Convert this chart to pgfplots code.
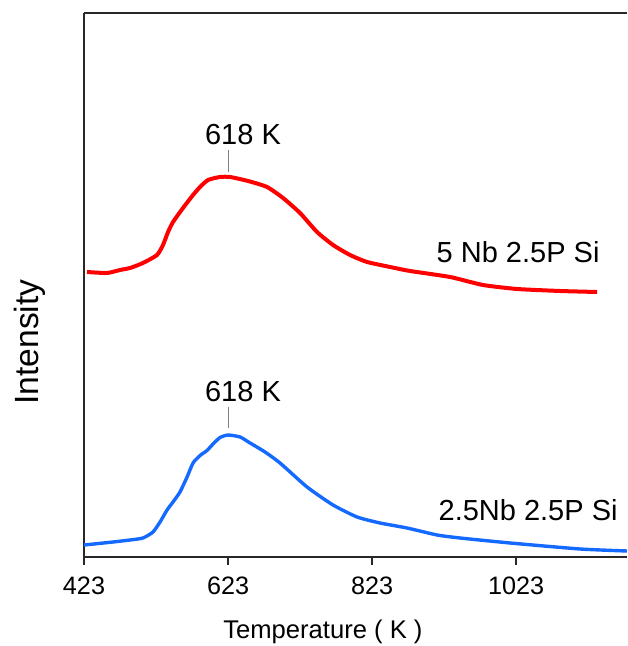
\documentclass[border=0pt]{standalone}
\usepackage{fontspec}
\setmainfont{Liberation Sans}
\usepackage{pgfplots}
\pgfplotsset{compat=1.18}
\definecolor{sigred}{RGB}{255,0,0}
\definecolor{sigblue}{RGB}{20,105,255}
\definecolor{axgray}{RGB}{40,40,40}
\begin{document}
\begin{tikzpicture}
\begin{axis}[
    scale only axis,
    width=271.5pt, height=272pt,
    xmin=423, xmax=1177, ymin=0, ymax=544,
    axis x line=box, axis y line=left,
    axis line style={axgray, line width=1pt, -},
    xtick={423,623,823,1023},
    ytick=\empty,
    xtick pos=bottom,
    tick align=outside,
    major tick length=4pt,
    tick style={axgray, line width=0.8pt},
    /pgf/number format/assume math mode=true,
    /pgf/number format/set thousands separator={},
    xticklabel style={font=\fontsize{12.6}{14}\selectfont, yshift=-2.5pt},
    xlabel={Temperature ( K )},
    ylabel={Intensity},
    xlabel style={font=\fontsize{12.8}{15}\selectfont, at={(axis description cs:0.44,-0.138)}, anchor=center},
    ylabel style={font=\fontsize{16.8}{19}\selectfont, at={(axis description cs:-0.099,0.395)}, anchor=center, rotate=0},
    clip=false,
]
\coordinate (sw) at (rel axis cs:0,0);
\coordinate (ne) at (rel axis cs:1,1);
% 5 Nb 2.5P Si
\addplot[sigred, line width=2pt, smooth, tension=0.35] coordinates {
(427.2,285) (455,284) (473,287) (486.9,289) (504.9,294) (524.4,302) (532.7,312)
(539.7,325) (546.6,335) (560.5,349) (574.4,362) (584.1,370) (595.2,377)
(611.9,380) (625.8,380) (650.8,376) (677.2,370) (699.4,359) (723,344)
(746.6,325) (768.8,312) (792.4,302) (816.1,295) (848,290) (875.8,286)
(931.3,280) (977,272) (1024.4,268) (1084,266) (1135.5,265)
};
% 2.5Nb 2.5P Si
\addplot[sigblue, line width=1.7pt, smooth, tension=0.35] coordinates {
(423,12) (463.3,15) (486.9,17) (504.9,19) (518.8,25) (528.6,35) (538.3,47)
(546.6,55) (556.3,65) (566.1,80) (574.4,94) (584.1,101.5) (593.8,106.5)
(602.2,113) (611.9,119.5) (623,122) (639.7,120) (653.6,114) (674.4,105)
(695.2,94) (732.7,70) (768.8,52) (802.2,40) (834.1,34)
(871.6,29) (913.3,22) (945.2,19) (1014.7,14) (1111.9,8) (1177,6)
};
\draw[gray, line width=0.6pt] (axis cs:624,385) -- (axis cs:624,407);
\draw[gray, line width=0.6pt] (axis cs:624,129) -- (axis cs:624,150);
\node[font=\fontsize{14.5}{17}\selectfont] at (axis cs:643.8,422) {618 K};
\node[font=\fontsize{14.5}{17}\selectfont] at (axis cs:643.8,165) {618 K};
\node[font=\fontsize{14.5}{17}\selectfont] at (axis cs:1025.8,305) {5 Nb 2.5P Si};
\node[font=\fontsize{14.5}{17}\selectfont] at (axis cs:1039.7,47) {2.5Nb 2.5P Si};
\end{axis}
\pgfresetboundingbox
\path[use as bounding box] ([xshift=-42pt,yshift=-44.5pt]sw) rectangle ([yshift=6.5pt]ne);
\end{tikzpicture}
\end{document}
